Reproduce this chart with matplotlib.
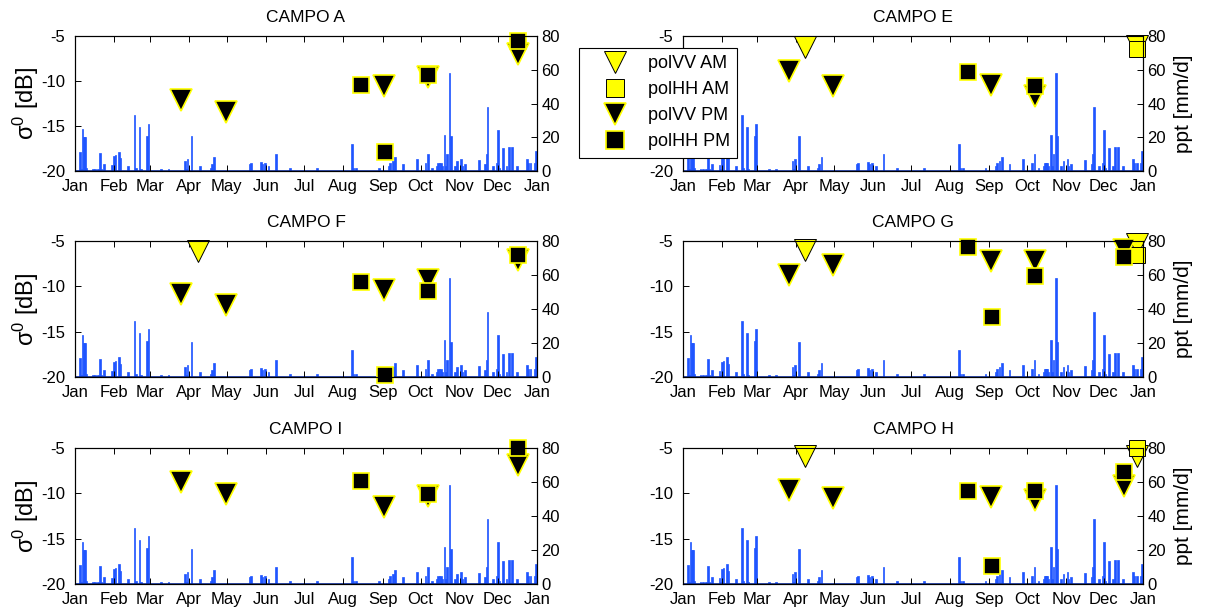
import numpy as np
import matplotlib
matplotlib.use('Agg')
import matplotlib.pyplot as plt
from matplotlib.lines import Line2D

plt.rcParams['font.family'] = ['Liberation Sans', 'DejaVu Sans']
plt.rcParams['mathtext.fontset'] = 'custom'
plt.rcParams['mathtext.rm'] = 'Liberation Sans'
plt.rcParams['mathtext.it'] = 'Liberation Sans'

# ---------------- data ----------------
MONTH_LABELS = ['Jan', 'Feb', 'Mar', 'Apr', 'May', 'Jun', 'Jul', 'Aug',
                'Sep', 'Oct', 'Nov', 'Dec', 'Jan']
MONTH_START = [0, 31, 59, 90, 120, 151, 181, 212, 243, 273, 304, 334, 365]

# daily precipitation (day of year, mm/d), same record in every panel
RAIN_DAY = [4, 5, 6, 7, 8, 9, 14, 16, 18, 20, 21, 23, 29, 30, 31, 32, 35, 36,
            42, 47, 48, 51, 52, 57, 58, 68, 74, 87, 88, 89, 92, 99, 107, 108,
            110, 138, 139, 147, 148, 150, 153, 159, 170, 191, 219, 220, 222,
            240, 248, 249, 251, 253, 259, 270, 277, 279, 282, 286, 287, 288,
            289, 290, 292, 293, 294, 296, 297, 300, 302, 305, 306, 308, 319,
            324, 325, 326, 330, 333, 334, 335, 338, 341, 343, 345, 349, 357,
            358, 360, 363, 364]
RAIN_MM = [11, 1, 25, 20, 20, 1.5, 1, 1, 1, 10.5, 1, 4, 3.5, 1, 9, 9.5, 11.5,
           7.5, 3, 33, 1.5, 26, 1, 21, 28, 1, 1, 6, 1, 7, 20.5, 3, 2, 4, 8.5,
           4, 4.5, 5.5, 4, 4.5, 3, 10, 1.5, 1.5, 16, 1.5, 2, 2, 3, 4.5, 6,
           8.5, 4, 7, 5, 10, 2, 3, 5, 4.5, 5, 3, 21.5, 3, 10, 58, 20.5, 3, 6,
           7, 3, 4, 6.5, 4, 10, 38, 3, 5, 24.5, 2, 13.5, 3, 14, 14, 3, 7,
           4.5, 5, 4.5, 12]

# acquisition days
VV_PM_DAY = [84, 119, 244, 279, 350]
HH_PM_DAY = [226, 245, 279, 350]
VV_AM_DAY = [97, 360]
HH_AM_DAY = [360]

nan = np.nan
# sigma0 [dB] per field
A_VV_PM = [-12.1, -13.45, -10.5, -9.6, -7.0]
A_HH_PM = [-10.45, -17.9, -9.35, -5.6]
A_VV_AM = [nan, nan]
A_HH_AM = [nan]

E_VV_PM = [-8.9, -10.5, -10.45, -11.7, nan]
E_HH_PM = [-9.0, nan, -10.5, nan]
E_VV_AM = [-6.2, -6.1]
E_HH_AM = [-6.45]

F_VV_PM = [-10.85, -12.05, -10.45, -9.3, -7.1]
F_HH_PM = [-9.5, -19.8, -10.5, -6.5]
F_VV_AM = [-6.05, nan]
F_HH_AM = [nan]

G_VV_PM = [-8.75, -7.65, -7.25, -7.25, -6.0]
G_HH_PM = [-5.7, -13.4, -8.85, -6.75]
G_VV_AM = [-6.0, -5.3]
G_HH_AM = [-6.55]

I_VV_PM = [-8.7, -10.1, -11.5, -10.3, -6.9]
I_HH_PM = [-8.6, nan, -10.05, -5.0]
I_VV_AM = [nan, nan]
I_HH_AM = [nan]

H_VV_PM = [-9.65, -10.55, -10.35, -10.7, -9.15]
H_HH_PM = [-9.7, -18.05, -9.7, -7.65]
H_VV_AM = [-5.9, -5.9]
H_HH_AM = [-4.95]

PANELS = [
    ('CAMPO A', A_VV_AM, A_HH_AM, A_VV_PM, A_HH_PM),
    ('CAMPO E', E_VV_AM, E_HH_AM, E_VV_PM, E_HH_PM),
    ('CAMPO F', F_VV_AM, F_HH_AM, F_VV_PM, F_HH_PM),
    ('CAMPO G', G_VV_AM, G_HH_AM, G_VV_PM, G_HH_PM),
    ('CAMPO I', I_VV_AM, I_HH_AM, I_VV_PM, I_HH_PM),
    ('CAMPO H', H_VV_AM, H_HH_AM, H_VV_PM, H_HH_PM),
]

# ---------------- layout ----------------
W, H = 1206, 614
fig = plt.figure(figsize=(W / 100, H / 100), dpi=100)


def rect(l, t, r, b):
    return [l / W, 1 - b / H, (r - l) / W, (b - t) / H]


BOXES = [(75, 36, 537, 171), (683, 36, 1143, 171),
         (75, 241, 537, 377), (683, 241, 1143, 377),
         (75, 448, 537, 584), (683, 448, 1143, 584)]

BAR_COLOR = '#1f55ff'
YEL = (1.0, 1.0, 0.0)
TRI = 15.5
SQ = 11.5
FS = 12

for i, (title, vv_am, hh_am, vv_pm, hh_pm) in enumerate(PANELS):
    ax = fig.add_axes(rect(*BOXES[i]))
    ax2 = ax.twinx()
    ax.set_zorder(ax2.get_zorder() + 1)
    ax.patch.set_visible(False)

    ax2.bar(RAIN_DAY, RAIN_MM, width=1.3, color=BAR_COLOR,
            edgecolor=BAR_COLOR, linewidth=0.5, align='center')
    ax2.axhline(0, color='#1030a0', lw=1.2)
    ax2.set_ylim(0, 80)
    ax2.set_yticks([0, 20, 40, 60, 80])
    ax2.tick_params(axis='y', direction='in', length=4, width=0.7,
                    labelsize=FS, pad=3)

    ax.plot(VV_AM_DAY, vv_am, 'v', ms=TRI, mfc=YEL, mec='black', mew=0.7,
            ls='none', clip_on=False)
    ax.plot(HH_AM_DAY, hh_am, 's', ms=SQ, mfc=YEL, mec='black', mew=0.7,
            ls='none', clip_on=False)
    ax.plot(VV_PM_DAY, vv_pm, 'v', ms=TRI, mfc='black', mec=YEL, mew=1.2,
            ls='none', clip_on=False)
    ax.plot(HH_PM_DAY, hh_pm, 's', ms=SQ, mfc='black', mec=YEL, mew=1.2,
            ls='none', clip_on=False)

    ax.set_xlim(0, 365)
    ax.set_ylim(-20, -5)
    ax.set_yticks([-20, -15, -10, -5])
    ax.set_yticklabels(['-20', '-15', '-10', '-5'])
    ax.set_xticks(MONTH_START)
    ax.set_xticklabels(MONTH_LABELS)
    ax.tick_params(axis='x', direction='in', length=4, width=0.7,
                   top=True, labelsize=FS, pad=6)
    ax.tick_params(axis='y', direction='in', length=4, width=0.7,
                   labelsize=FS, pad=7)
    ax2.tick_params(axis='x', top=False, bottom=False)
    for a in (ax, ax2):
        for s in a.spines.values():
            s.set_linewidth(0.8)
    ax.set_title(title, fontsize=12.5, pad=10)
    if i % 2 == 0:
        ax.set_ylabel(r'$\mathregular{\sigma^0}$ [dB]', fontsize=17,
                      labelpad=0)
    else:
        ax2.set_ylabel('ppt [mm/d]', fontsize=15, labelpad=6)

handles = [
    Line2D([], [], marker='v', ms=TRI, mfc=YEL, mec='black', mew=0.7, ls='none'),
    Line2D([], [], marker='s', ms=SQ + 2, mfc=YEL, mec='black', mew=0.7, ls='none'),
    Line2D([], [], marker='v', ms=TRI, mfc='black', mec=YEL, mew=1.2, ls='none'),
    Line2D([], [], marker='s', ms=SQ + 2, mfc='black', mec=YEL, mew=1.2, ls='none'),
]
labels = ['polVV AM', 'polHH AM', 'polVV PM', 'polHH PM']
leg = fig.legend(handles, labels, loc='upper left',
                 bbox_to_anchor=(579 / W, 1 - 48 / H), borderaxespad=0,
                 fontsize=13, frameon=True, fancybox=False, edgecolor='black',
                 framealpha=1, handlelength=3.2, handletextpad=0.2,
                 labelspacing=0.5, borderpad=0.4)
leg.get_frame().set_linewidth(0.8)

fig.savefig('out.png', dpi=100)
